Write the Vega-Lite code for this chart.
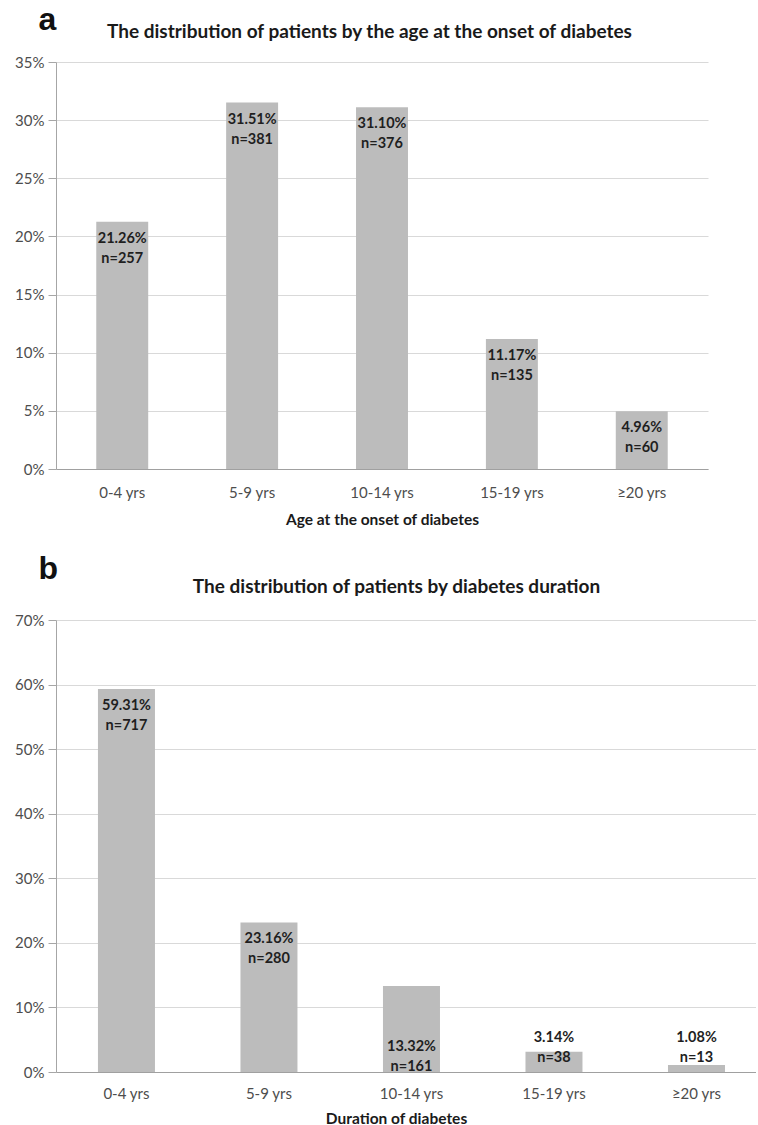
{
  "$schema": "https://vega.github.io/schema/vega-lite/v6.json",
  "background": "white",
  "padding": {"left": 14, "top": 3, "right": 0, "bottom": 0},
  "datasets": {
    "onset": [
      {"group": "0-4 yrs", "pct": 21.26, "n": 257},
      {"group": "5-9 yrs", "pct": 31.51, "n": 381},
      {"group": "10-14 yrs", "pct": 31.10, "n": 376},
      {"group": "15-19 yrs", "pct": 11.17, "n": 135},
      {"group": "≥20 yrs", "pct": 4.96, "n": 60}
    ],
    "duration": [
      {"group": "0-4 yrs", "pct": 59.31, "n": 717},
      {"group": "5-9 yrs", "pct": 23.16, "n": 280},
      {"group": "10-14 yrs", "pct": 13.32, "n": 161},
      {"group": "15-19 yrs", "pct": 3.14, "n": 38},
      {"group": "≥20 yrs", "pct": 1.08, "n": 13}
    ]
  },
  "spacing": 24,
  "vconcat": [
    {
      "width": 652,
      "height": 407,
      "data": {"name": "onset"},
      "transform": [
        {"calculate": "format(datum.pct, '.2f') + '%\\nn=' + datum.n", "as": "label"}
      ],
      "encoding": {
        "y": {
          "field": "pct", "type": "quantitative",
          "scale": {"domain": [0, 35], "nice": false},
          "axis": {"values": [0, 5, 10, 15, 20, 25, 30, 35], "labelExpr": "datum.value + '%'",
                   "title": "a", "titleX": -18, "titleY": -33}
        }
      },
      "layer": [
        {
          "mark": {"type": "bar", "color": "#bcbcbc"},
          "encoding": {
            "x": {
              "field": "group", "type": "nominal", "sort": null,
              "scale": {"paddingInner": 0.6, "paddingOuter": 0.31},
              "axis": {"title": "Age at the onset of diabetes"}
            }
          }
        },
        {
          "mark": {"type": "text", "baseline": "top", "dy": 10, "lineBreak": "\n", "lineHeight": 20,
                   "fontWeight": "bold", "fontSize": 14.5, "color": "#1f1f1f"},
          "encoding": {
            "x": {
              "field": "group", "type": "nominal", "sort": null,
              "axis": {"orient": "top", "title": "The distribution of patients by the age at the onset of diabetes",
                       "labels": false, "domain": false, "ticks": false, "titleX": 313, "titlePadding": 21,
                       "titleFontSize": 19, "titleBaseline": "bottom"}
            },
            "text": {"field": "label"}
          }
        }
      ],
      "resolve": {"axis": {"x": "independent"}}
    },
    {
      "width": 700,
      "height": 452,
      "data": {"name": "duration"},
      "transform": [
        {"calculate": "format(datum.pct, '.2f') + '%\\nn=' + datum.n", "as": "label"}
      ],
      "encoding": {
        "y": {
          "field": "pct", "type": "quantitative",
          "scale": {"domain": [0, 70], "nice": false},
          "axis": {"values": [0, 10, 20, 30, 40, 50, 60, 70], "labelExpr": "datum.value + '%'",
                   "title": "b", "titleX": -18, "titleY": -42}
        }
      },
      "layer": [
        {
          "mark": {"type": "bar", "color": "#bcbcbc"},
          "encoding": {
            "x": {
              "field": "group", "type": "nominal", "sort": null,
              "scale": {"paddingInner": 0.6, "paddingOuter": 0.256, "align": 0.575},
              "axis": {"title": "Duration of diabetes", "labelPadding": 14, "titlePadding": 10, "titleX": 340}
            }
          }
        },
        {
          "transform": [{"filter": "datum.pct >= 20"}],
          "mark": {"type": "text", "baseline": "top", "dy": 10, "lineBreak": "\n", "lineHeight": 20,
                   "fontWeight": "bold", "fontSize": 14.5, "color": "#1f1f1f"},
          "encoding": {
            "x": {
              "field": "group", "type": "nominal", "sort": null,
              "axis": {"orient": "top", "title": "The distribution of patients by diabetes duration",
                       "labels": false, "domain": false, "ticks": false, "titleX": 340, "titlePadding": 24,
                       "titleFontSize": 19, "titleBaseline": "bottom"}
            },
            "text": {"field": "label"}
          }
        },
        {
          "transform": [{"filter": "datum.pct >= 10 && datum.pct < 20"}],
          "mark": {"type": "text", "baseline": "top", "dy": 10, "lineBreak": "\n", "lineHeight": 20,
                   "fontWeight": "bold", "fontSize": 14.5, "color": "#1f1f1f"},
          "encoding": {
            "x": {"field": "group", "type": "nominal", "sort": null, "axis": null},
            "y": {"datum": 6.5, "type": "quantitative"},
            "text": {"field": "label"}
          }
        },
        {
          "transform": [{"filter": "datum.pct < 10"}],
          "mark": {"type": "text", "baseline": "top", "dy": 10, "lineBreak": "\n", "lineHeight": 20,
                   "fontWeight": "bold", "fontSize": 14.5, "color": "#1f1f1f"},
          "encoding": {
            "x": {"field": "group", "type": "nominal", "sort": null, "axis": null},
            "y": {"datum": 7.9, "type": "quantitative"},
            "text": {"field": "label"}
          }
        }
      ],
      "resolve": {"axis": {"x": "independent"}}
    }
  ],
  "config": {
    "font": "Lato",
    "view": {"stroke": null},
    "axis": {"labelFont": "Lato", "labelFontSize": 15, "labelColor": "#4d4d4d", "titleFont": "Lato",
             "titleFontSize": 15.5, "titleFontWeight": "bold", "titleColor": "#1a1a1a"},
    "axisX": {"domainColor": "#a0a0a0", "ticks": false, "labelAngle": 0, "labelPadding": 16, "titlePadding": 12, "grid": false},
    "axisY": {"domainColor": "#a6a6a6", "tickColor": "#a6a6a6", "tickSize": 8, "gridColor": "#d9d9d9",
              "labelPadding": 4, "titleFont": "Liberation Sans", "titleFontSize": 32, "titleAngle": 0,
              "titleAlign": "left", "titleBaseline": "alphabetic", "titleColor": "#111111"}
  }
}
